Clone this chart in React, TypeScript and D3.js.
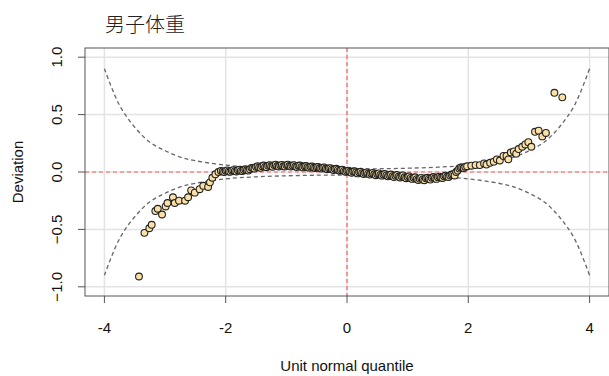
import React from "react";
import * as d3 from "d3";

const W = 609;
const H = 376;

const TITLE = "男子体重";
const X_LABEL = "Unit normal quantile";
const Y_LABEL = "Deviation";
const xTicks = [-4, -2, 0, 2, 4];
const yTicks = [-1, -0.5, 0, 0.5, 1];

// worm points: unit normal quantile / deviation
const tailLeftX = [-3.43, -3.34, -3.26, -3.22, -3.16, -3.12, -3.05, -2.99, -2.96, -2.87, -2.84, -2.77, -2.67, -2.62, -2.57, -2.51, -2.43, -2.37, -2.29, -2.26, -2.22, -2.17, -2.12, -2.08];
const tailLeftY = [-0.91, -0.53, -0.49, -0.46, -0.34, -0.32, -0.37, -0.30, -0.27, -0.22, -0.27, -0.25, -0.25, -0.22, -0.16, -0.18, -0.15, -0.12, -0.13, -0.09, -0.05, -0.02, 0.0, 0.01];

const midX = [-2.05, -2.0, -1.95, -1.9, -1.85, -1.8, -1.75, -1.7, -1.65, -1.6, -1.55, -1.5, -1.45, -1.4, -1.35, -1.3, -1.25, -1.2, -1.15, -1.1, -1.05, -1.0, -0.95, -0.9, -0.85, -0.8, -0.75, -0.7, -0.65, -0.6, -0.55, -0.5, -0.45, -0.4, -0.35, -0.3, -0.25, -0.2, -0.15, -0.1, -0.05, 0.0, 0.05, 0.1, 0.15, 0.2, 0.25, 0.3, 0.35, 0.4, 0.45, 0.5, 0.55, 0.6, 0.65, 0.7, 0.75, 0.8, 0.85, 0.9, 0.95, 1.0, 1.05, 1.1, 1.15, 1.2, 1.25, 1.3, 1.35, 1.4, 1.45, 1.5, 1.55, 1.6, 1.65, 1.7, 1.75, 1.8, 1.85, 1.9, 1.95];
const midY = [0.005, 0.01, 0.005, 0.012, 0.008, 0.015, 0.01, 0.018, 0.015, 0.025, 0.035, 0.045, 0.04, 0.05, 0.045, 0.055, 0.05, 0.06, 0.052, 0.058, 0.05, 0.06, 0.052, 0.056, 0.048, 0.055, 0.045, 0.05, 0.042, 0.046, 0.038, 0.042, 0.035, 0.038, 0.03, 0.032, 0.025, 0.026, 0.018, 0.016, 0.01, 0.008, 0.002, 0.004, -0.004, -0.002, -0.01, -0.008, -0.015, -0.012, -0.02, -0.018, -0.025, -0.022, -0.03, -0.028, -0.036, -0.032, -0.04, -0.038, -0.046, -0.044, -0.052, -0.05, -0.062, -0.058, -0.065, -0.055, -0.06, -0.05, -0.055, -0.045, -0.048, -0.038, -0.04, -0.03, -0.02, 0.0, 0.03, 0.04, 0.045];

const midX2 = [-2.025, -1.975, -1.925, -1.875, -1.825, -1.775, -1.725, -1.675, -1.625, -1.575, -1.525, -1.475, -1.425, -1.375, -1.325, -1.275, -1.225, -1.175, -1.125, -1.075, -1.025, -0.975, -0.925, -0.875, -0.825, -0.775, -0.725, -0.675, -0.625, -0.575, -0.525, -0.475, -0.425, -0.375, -0.325, -0.275, -0.225, -0.175, -0.125, -0.075, -0.025, 0.025, 0.075, 0.125, 0.175, 0.225, 0.275, 0.325, 0.375, 0.425, 0.475, 0.525, 0.575, 0.625, 0.675, 0.725, 0.775, 0.825, 0.875, 0.925, 0.975, 1.025, 1.075, 1.125, 1.175, 1.225, 1.275, 1.325, 1.375, 1.425, 1.475, 1.525, 1.575, 1.625, 1.675, 1.725, 1.775, 1.825, 1.875, 1.925];
const midY2 = [0.0, 0.014, 0.002, 0.016, 0.005, 0.02, 0.008, 0.024, 0.012, 0.036, 0.03, 0.05, 0.036, 0.056, 0.042, 0.06, 0.046, 0.064, 0.048, 0.062, 0.048, 0.064, 0.048, 0.06, 0.044, 0.056, 0.04, 0.052, 0.038, 0.048, 0.034, 0.044, 0.03, 0.04, 0.024, 0.034, 0.018, 0.028, 0.01, 0.02, 0.002, 0.012, -0.006, 0.006, -0.012, 0.002, -0.018, -0.004, -0.022, -0.008, -0.028, -0.012, -0.032, -0.018, -0.038, -0.022, -0.044, -0.026, -0.048, -0.03, -0.054, -0.038, -0.06, -0.046, -0.07, -0.052, -0.072, -0.05, -0.066, -0.044, -0.06, -0.04, -0.052, -0.032, -0.044, -0.022, -0.03, 0.012, 0.04, 0.035];

const tailRightX = [1.98, 2.05, 2.12, 2.19, 2.26, 2.3, 2.36, 2.42, 2.47, 2.52, 2.58, 2.63, 2.66, 2.7, 2.75, 2.79, 2.83, 2.89, 2.94, 2.99, 3.04, 3.1, 3.16, 3.22, 3.28, 3.42, 3.55];
const tailRightY = [0.05, 0.055, 0.06, 0.06, 0.075, 0.065, 0.08, 0.09, 0.11, 0.1, 0.14, 0.14, 0.11, 0.17, 0.18, 0.16, 0.2, 0.22, 0.24, 0.26, 0.22, 0.35, 0.36, 0.31, 0.34, 0.69, 0.65];

// 95% band (upper half; lower is mirrored)
const bandZ = [-4, -3.75, -3.5, -3.25, -3, -2.75, -2.5, -2, -1.5, -1, -0.5, 0, 0.5, 1, 1.5, 2, 2.5, 2.75, 3, 3.25, 3.5, 3.75, 4];
const bandUp = [0.9, 0.58, 0.39, 0.26, 0.185, 0.13, 0.098, 0.06, 0.042, 0.033, 0.028, 0.027, 0.028, 0.033, 0.042, 0.06, 0.098, 0.13, 0.185, 0.26, 0.39, 0.58, 0.9];

const margin = { left: 85, top: 48, right: 0, bottom: 80 };

export default function App() {
  const x = d3.scaleLinear().domain([-4.32, 4.32]).range([margin.left, W - margin.right]);
  const y = d3.scaleLinear().domain([-1.08, 1.08]).range([H - margin.bottom, margin.top]);
  const [x0, x1] = x.range();
  const [y0, y1] = [margin.top, H - margin.bottom];

  const bandLine = d3
    .line<number>()
    .x((_, i) => x(bandZ[i]))
    .y((d) => y(d))
    .curve(d3.curveCatmullRom);

  const pts: [number, number][] = [];
  tailLeftX.forEach((v, i) => pts.push([v, tailLeftY[i]]));
  midX.forEach((v, i) => {
    pts.push([v, midY[i]]);
    if (i < midX2.length) pts.push([midX2[i], midY2[i]]);
  });
  tailRightX.forEach((v, i) => pts.push([v, tailRightY[i]]));

  const font = "'Liberation Sans', Arial, sans-serif";

  return (
    <svg width={W} height={H} style={{ position: "absolute", left: 0, top: 0, background: "#fff" }}>
      <defs>
        <clipPath id="plotClip">
          <rect x={x0} y={y0} width={x1 - x0} height={y1 - y0} />
        </clipPath>
      </defs>
      <text x={105} y={32} fontSize={20} fontWeight={300} fontFamily="'Noto Sans CJK SC', sans-serif" fill="#222">
        {TITLE}
      </text>

      {/* grid */}
      <g stroke="#e3e3e3" strokeWidth={1.5}>
        {xTicks.map((t) => (
          <line key={"gx" + t} x1={x(t)} x2={x(t)} y1={y0} y2={y1} />
        ))}
        {yTicks.map((t) => (
          <line key={"gy" + t} x1={x0} x2={x1} y1={y(t)} y2={y(t)} />
        ))}
      </g>

      {/* reference lines */}
      <g stroke="#ff5a5a" strokeWidth={1.2} strokeDasharray="4,3">
        <line x1={x(0)} x2={x(0)} y1={y0} y2={y1} />
        <line x1={x0} x2={x1} y1={y(0)} y2={y(0)} />
      </g>

      {/* confidence band */}
      <g fill="none" stroke="#666" strokeWidth={1.3} strokeDasharray="4,3">
        <path d={bandLine(bandUp) || ""} />
        <path d={bandLine(bandUp.map((v) => -v)) || ""} />
      </g>

      {/* worm */}
      <g clipPath="url(#plotClip)">
        {pts.map((p, i) => (
          <circle key={i} cx={x(p[0])} cy={y(p[1])} r={3.4} fill="#fbe1a6" stroke="#222" strokeWidth={1.1} />
        ))}
      </g>

      {/* box */}
      <rect x={x0} y={y0} width={x1 - x0} height={y1 - y0} fill="none" stroke="#555" strokeWidth={1} />

      {/* ticks */}
      <g stroke="#555">
        {xTicks.map((t) => (
          <line key={"tx" + t} x1={x(t)} x2={x(t)} y1={y1} y2={y1 + 7} />
        ))}
        {yTicks.map((t) => (
          <line key={"ty" + t} x1={x0} x2={x0 - 7} y1={y(t)} y2={y(t)} />
        ))}
      </g>
      <g fontFamily={font} fontSize={15} fill="#111" textAnchor="middle">
        {xTicks.map((t) => (
          <text key={"lx" + t} x={x(t)} y={332.5}>
            {t}
          </text>
        ))}
        {yTicks.map((t) => (
          <text key={"ly" + t} transform={`translate(62,${y(t)}) rotate(-90)`}>
            {d3.format(".1f")(t)}
          </text>
        ))}
      </g>
      <text x={x(0)} y={371} fontFamily={font} fontSize={15} textAnchor="middle" fill="#111">
        {X_LABEL}
      </text>
      <text transform={`translate(23,${(y0 + y1) / 2}) rotate(-90)`} fontFamily={font} fontSize={15} textAnchor="middle" fill="#111">
        {Y_LABEL}
      </text>
    </svg>
  );
}
